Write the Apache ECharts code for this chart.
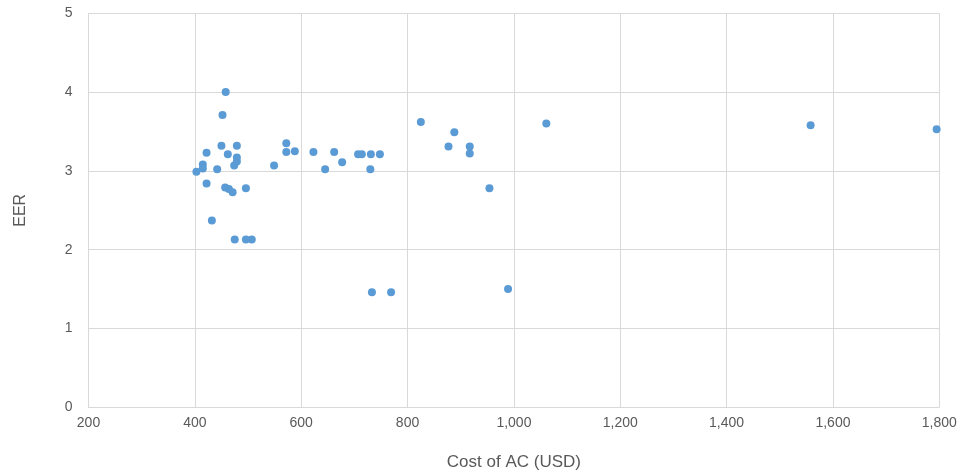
<!DOCTYPE html>
<html>
<head>
<meta charset="utf-8">
<script src="https://cdn.jsdelivr.net/npm/echarts@6/dist/echarts.min.js"></script>
<style>html,body{margin:0;padding:0;background:#fff;}#c{width:963px;height:474px;}</style>
</head>
<body>
<div id="c"></div>
<script>
const costUSD = [458, 452, 450, 479, 422, 462, 479, 479, 474, 415, 415, 403, 442, 422, 457, 464, 471, 496, 432, 475, 496, 507,
  549, 572, 572, 588, 623, 662, 677, 645, 707, 714, 731, 748, 730, 733, 769, 989,
  825, 888, 877, 917, 917, 954, 1061, 1558, 1795];
const eer = [4.00, 3.71, 3.32, 3.32, 3.23, 3.21, 3.17, 3.12, 3.07, 3.08, 3.03, 2.99, 3.02, 2.84, 2.79, 2.77, 2.73, 2.78, 2.37, 2.13, 2.13, 2.13,
  3.07, 3.35, 3.24, 3.25, 3.24, 3.24, 3.11, 3.02, 3.21, 3.21, 3.21, 3.21, 3.02, 1.46, 1.46, 1.50,
  3.62, 3.49, 3.31, 3.31, 3.22, 2.78, 3.60, 3.58, 3.53];
const xTicks = [200, 400, 600, 800, 1000, 1200, 1400, 1600, 1800];
const yTicks = [0, 1, 2, 3, 4, 5];

const points = costUSD.map((c, i) => [c, eer[i]]);
const chart = echarts.init(document.getElementById('c'));
const font = '"Liberation Sans", "DejaVu Sans", sans-serif';
chart.setOption({
  animation: false,
  grid: { left: 88.5, right: 23.7, top: 13.3, bottom: 66.7, containLabel: false, outerBoundsMode: 'none' },
  xAxis: {
    type: 'value', min: xTicks[0], max: xTicks[xTicks.length - 1], interval: 200,
    name: 'Cost of AC (USD)', nameLocation: 'middle', nameGap: 47,
    nameTextStyle: { color: '#595959', fontSize: 17, fontFamily: font },
    axisLine: { show: true, lineStyle: { color: '#d9d9d9' } },
    axisTick: { show: false },
    splitLine: { show: true, lineStyle: { color: '#d9d9d9' } },
    axisLabel: { color: '#595959', fontSize: 14, fontFamily: font, margin: 9,
      formatter: v => v.toLocaleString('en-US') }
  },
  yAxis: {
    type: 'value', min: yTicks[0], max: yTicks[yTicks.length - 1], interval: 1,
    name: 'EER', nameLocation: 'middle', nameGap: 60, nameRotate: 90,
    nameTextStyle: { color: '#595959', fontSize: 16, fontFamily: font },
    axisLine: { show: true, lineStyle: { color: '#d9d9d9' } },
    axisTick: { show: false },
    splitLine: { show: true, lineStyle: { color: '#d9d9d9' } },
    axisLabel: { color: '#595959', fontSize: 14, fontFamily: font, margin: 16 }
  },
  series: [{
    type: 'scatter', data: points, symbolSize: 8,
    itemStyle: { color: '#5b9bd5', opacity: 1 }
  }]
});
</script>
</body>
</html>
